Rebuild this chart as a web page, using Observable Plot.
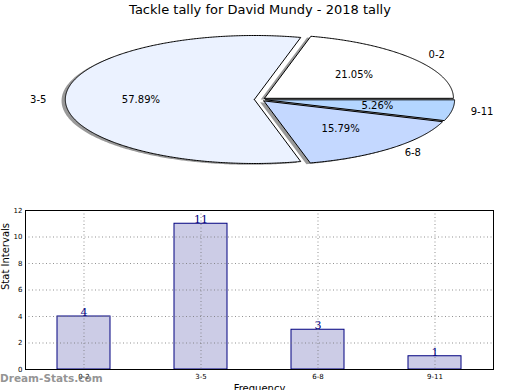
<!DOCTYPE html>
<html><head><meta charset="utf-8">
<script src="https://cdn.jsdelivr.net/npm/d3@7"></script>
<script src="https://cdn.jsdelivr.net/npm/@observablehq/plot@0.6"></script>
<style>
body{margin:0;background:#fff;}
#wrap{position:relative;width:520px;height:390px;overflow:hidden;font-family:"DejaVu Sans",sans-serif;}
#pie{position:absolute;left:0;top:0;}
#bar{position:absolute;left:0;top:200px;}
#title{position:absolute;top:2px;left:0;width:520px;text-align:center;font-size:13px;line-height:16px;color:#000;}
#wm{position:absolute;left:0;top:372px;font-weight:bold;font-size:10.5px;color:rgba(120,120,120,0.8);}
#wrap svg{background:transparent !important;}
</style></head><body>
<div id="wrap"><div id="pie"></div><div id="bar"></div>
<div id="title">Tackle tally for David Mundy - 2018 tally</div>
<div id="wm">Dream-Stats.com</div></div>
<script>
const categories = ["0-2", "3-5", "6-8", "9-11"];
const counts = [4, 11, 3, 1];
const sliceColors = ["#ffffff", "#ebf2ff", "#c4d8ff", "#b4d6ff"];
const explode = [0.03, 0.03, 0.03, 0.03];
const yTicks = [0, 2, 4, 6, 8, 10, 12];

// ---------- pie ----------
const W = 520, PH = 190, cx = 259.5, cy = 99, rx = 189, ry = 64;
const total = d3.sum(counts);
let acc = 0;
const slices = categories.map((c, i) => {
  const frac = counts[i] / total;
  const t1 = acc, t2 = acc + frac * 360; acc = t2;
  const mid = (t1 + t2) / 2 * Math.PI / 180;
  return {c, frac, t1, t2, mid, dx: explode[i] * Math.cos(mid), dy: explode[i] * Math.sin(mid), color: sliceColors[i]};
});
function wedge(s, ox = 0, oy = 0) {
  const pts = [{x: s.dx + ox, y: s.dy + oy}];
  const n = Math.max(4, Math.ceil((s.t2 - s.t1) * 2));
  for (let j = 0; j <= n; j++) {
    const t = (s.t1 + (s.t2 - s.t1) * j / n) * Math.PI / 180;
    pts.push({x: s.dx + ox + Math.cos(t), y: s.dy + oy + Math.sin(t)});
  }
  pts.push(pts[0]);
  return pts;
}
const pieMarks = [];
slices.forEach(s => pieMarks.push(Plot.line(wedge(s, -0.02, -0.02), {x: "x", y: "y", fill: "#555", fillOpacity: 0.6, stroke: "none", curve: "linear"})));
slices.forEach(s => pieMarks.push(Plot.line(wedge(s), {x: "x", y: "y", fill: s.color, stroke: "#000", strokeWidth: 1, curve: "linear"})));
const labels = slices.map(s => ({
  lx: s.dx + 1.1 * Math.cos(s.mid), ly: s.dy + 1.1 * Math.sin(s.mid),
  px: s.dx + 0.6 * Math.cos(s.mid), py: s.dy + 0.6 * Math.sin(s.mid),
  c: s.c, pct: (s.frac * 100).toFixed(2) + "%", anchor: Math.cos(s.mid) >= 0 ? "start" : "end"
}));
pieMarks.push(Plot.text(labels.filter(d => d.anchor === "start"), {x: "lx", y: "ly", text: "c", textAnchor: "start", fontSize: 10, fill: "#000"}));
pieMarks.push(Plot.text(labels.filter(d => d.anchor === "end"), {x: "lx", y: "ly", text: "c", textAnchor: "end", fontSize: 10, fill: "#000"}));
pieMarks.push(Plot.text(labels, {x: "px", y: "py", text: "pct", fontSize: 10, fill: "#000"}));

const pie = Plot.plot({
  width: W, height: PH, margin: 0,
  x: {domain: [-cx / rx, (W - cx) / rx], range: [0, W], axis: null},
  y: {domain: [-(PH - cy) / ry, cy / ry], range: [PH, 0], axis: null},
  style: {fontFamily: "DejaVu Sans", background: "transparent"},
  marks: pieMarks
});
document.getElementById("pie").appendChild(pie);

// ---------- bars ----------
const barData = categories.map((c, i) => ({c, v: counts[i]}));
const bar = Plot.plot({
  width: W, height: 190,
  marginTop: 10, marginBottom: 21, marginLeft: 25, marginRight: 27,
  x: {domain: categories, type: "band", paddingInner: 0.55, paddingOuter: 0.275, axis: null, label: null},
  y: {domain: [0, 12], axis: null, label: null},
  style: {fontFamily: "DejaVu Sans", background: "transparent"},
  marks: [
    Plot.barY(barData, {x: "c", y: "v", fill: "#ccccE6", stroke: "#000080", strokeWidth: 1}),
    Plot.gridY(yTicks, {stroke: "#777", strokeOpacity: 0.8, strokeDasharray: "1,2.5"}),
    Plot.gridX(categories, {stroke: "#777", strokeOpacity: 0.8, strokeDasharray: "1,2.5"}),
    Plot.axisY(yTicks, {tickSize: 0, tickPadding: 3, fontSize: 7, tickFormat: d => d, fill: "#000", label: null}),
    Plot.axisX(categories, {tickSize: 0, tickPadding: 5, fontSize: 7, fill: "#000", label: null}),
    Plot.frame({stroke: "#000"}),
    Plot.text(barData, {x: "c", y: "v", text: d => String(d.v), lineAnchor: "bottom", dy: -0.5, fontSize: 11, fontFamily: "DejaVu Serif", fill: "#000080"}),
    Plot.text(["Stat Intervals"], {frameAnchor: "left", dx: -20, rotate: -90, fontSize: 10, fill: "#000"}),
    Plot.text(["Frequency"], {frameAnchor: "bottom", dy: 15, lineAnchor: "top", fontSize: 10, fill: "#000"})
  ]
});
document.getElementById("bar").appendChild(bar);
</script></body></html>
